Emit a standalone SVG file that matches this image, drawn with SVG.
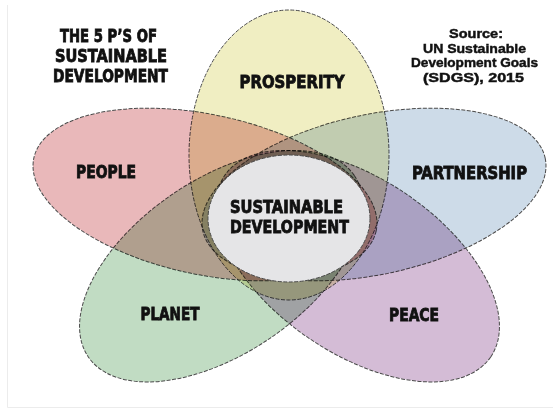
<svg xmlns="http://www.w3.org/2000/svg" width="553" height="412" viewBox="0 0 553 412">
<style>
.petal{stroke:#4a4a4a;stroke-width:1;stroke-dasharray:4 1.5;mix-blend-mode:multiply}
.lbl{font-family:"DejaVu Sans Condensed","Liberation Sans Narrow","Liberation Sans",sans-serif;font-weight:bold;fill:#111;stroke:#111;stroke-width:0.8;text-anchor:middle;font-size:18px}
.src{font-family:"Liberation Sans","DejaVu Sans",sans-serif;font-weight:bold;fill:#111;stroke:#111;stroke-width:0.45;text-anchor:middle;font-size:13px}
</style>
<rect width="553" height="412" fill="#fff"/>
<g id="frame" stroke="#ececec" stroke-width="1" fill="none">
<path d="M7.5 5V407.5H553"/>
</g>
<g id="prosperity">
<ellipse class="petal" cx="289" cy="155" rx="100" ry="145" fill="#f0eec2"/>
<text class="lbl" x="292" y="88" textLength="105" lengthAdjust="spacingAndGlyphs">PROSPERITY</text>
</g>
<g id="people">
<ellipse class="petal" cx="205" cy="194.5" rx="175" ry="80" transform="rotate(12 205 194.5)" fill="#e9b8ba"/>
<text class="lbl" x="106" y="178" textLength="60" lengthAdjust="spacingAndGlyphs">PEOPLE</text>
</g>
<g id="partnership">
<ellipse class="petal" cx="374" cy="194.5" rx="175" ry="80" transform="rotate(-12 374 194.5)" fill="#cddbe8"/>
<text class="lbl" x="469.5" y="179" textLength="115" lengthAdjust="spacingAndGlyphs">PARTNERSHIP</text>
</g>
<g id="planet">
<ellipse class="petal" cx="221.3" cy="266.2" rx="161" ry="87" transform="rotate(-34.3 221.3 266.2)" fill="#c1dcc3"/>
<text class="lbl" x="170" y="320" textLength="59" lengthAdjust="spacingAndGlyphs">PLANET</text>
</g>
<g id="peace">
<ellipse class="petal" cx="357.7" cy="266.2" rx="161" ry="87" transform="rotate(34.3 357.7 266.2)" fill="#d4bcd6"/>
<text class="lbl" x="414" y="321" textLength="50" lengthAdjust="spacingAndGlyphs">PEACE</text>
</g>
<g id="sustainable-development">
<ellipse cx="289" cy="218.5" rx="81" ry="63.5" fill="#e5e5e7" stroke="#4a4a4a" stroke-width="1" stroke-dasharray="4 1.5"/>
<text class="lbl" x="286.5" y="213" textLength="113" lengthAdjust="spacingAndGlyphs">SUSTAINABLE</text>
<text class="lbl" x="289.5" y="233" textLength="119" lengthAdjust="spacingAndGlyphs">DEVELOPMENT</text>
</g>
<g id="title">
<text class="lbl" x="108.5" y="42" textLength="97" lengthAdjust="spacingAndGlyphs">THE 5 P’S OF</text>
<text class="lbl" x="111" y="62" textLength="112" lengthAdjust="spacingAndGlyphs">SUSTAINABLE</text>
<text class="lbl" x="110.5" y="82" textLength="115" lengthAdjust="spacingAndGlyphs">DEVELOPMENT</text>
</g>
<g id="source">
<text class="src" x="476" y="38" textLength="54" lengthAdjust="spacingAndGlyphs">Source:</text>
<text class="src" x="474.5" y="53" textLength="103" lengthAdjust="spacingAndGlyphs">UN Sustainable</text>
<text class="src" x="474.5" y="67" textLength="127" lengthAdjust="spacingAndGlyphs">Development Goals</text>
<text class="src" x="473.5" y="82" textLength="101" lengthAdjust="spacingAndGlyphs">(SDGS), 2015</text>
</g>
<g id="connectors"/>
</svg>
